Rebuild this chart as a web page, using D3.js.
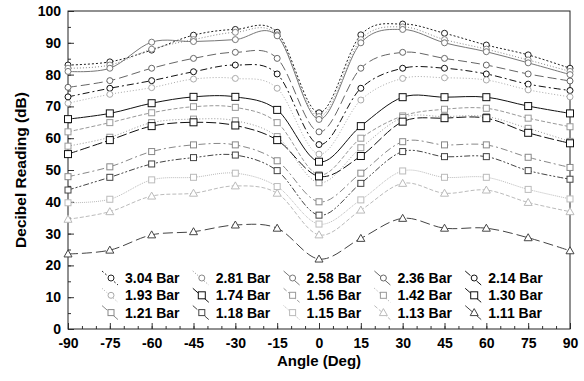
<!DOCTYPE html>
<html>
  <head>
    <meta charset="utf-8" />
    <title>Decibel Reading vs Angle</title>
    <script src="https://d3js.org/d3.v7.min.js"></script>
    <style>
      body { margin: 0; background: #fff; }
      text { font-family: "Liberation Sans", Arial, sans-serif; font-weight: bold; fill: #000; }
    </style>
  </head>

  <body>
    <svg id="viz"></svg>

    <script>
        // data
        var angles = [-90, -75, -60, -45, -30, -15, 0, 15, 30, 45, 60, 75, 90];
        var xTicks = [-90, -75, -60, -45, -30, -15, 0, 15, 30, 45, 60, 75, 90];
        var yTicks = [0, 10, 20, 30, 40, 50, 60, 70, 80, 90, 100];
        var seriesNames = ["3.04 Bar", "2.81 Bar", "2.58 Bar", "2.36 Bar", "2.14 Bar",
                           "1.93 Bar", "1.74 Bar", "1.56 Bar", "1.42 Bar", "1.30 Bar",
                           "1.21 Bar", "1.18 Bar", "1.15 Bar", "1.13 Bar", "1.11 Bar"];

        var bar304 = [83, 84, 87.7, 92.4, 94.2, 93.3, 68, 92.5, 95.9, 93, 89.3, 86.2, 82];
        var bar281 = [82, 83, 88, 91, 93.3, 92.5, 66.8, 91, 95, 91, 88, 84.6, 81];
        var bar258 = [81, 82, 90.2, 90.4, 91, 92.2, 65.9, 90, 94.2, 90, 87.2, 83.7, 80];
        var bar236 = [76, 78.1, 82, 85.1, 87, 85.1, 62, 82, 87, 85.1, 83, 80.2, 78];
        var bar214 = [73, 75.7, 78.1, 80.9, 83, 80.2, 58, 75.7, 82, 82, 80.2, 77, 75];
        var bar193 = [71, 73.8, 75.9, 78.6, 78.8, 75.7, 55, 72, 78.8, 79, 78.3, 75.2, 73];
        var bar174 = [66, 67.8, 71, 73, 73, 68.9, 52.6, 63.8, 72.9, 72.9, 72.9, 70.1, 67.8];
        var bar156 = [62, 64.9, 68, 69.9, 69.7, 64.9, 48.5, 60, 67, 69.1, 69.4, 66.3, 63.6];
        var bar142 = [57.5, 60.3, 64.9, 66, 65.5, 60.5, 46, 57, 66.5, 66.8, 66.8, 63.1, 59];
        var bar130 = [55, 59.4, 63.8, 65, 64, 59.4, 48, 54.4, 65.2, 66.3, 66.3, 61.7, 58.4];
        var bar121 = [47.9, 51, 55.8, 57.9, 57.9, 52.9, 40, 49, 58.9, 57.9, 57.9, 54, 50.8];
        var bar118 = [43.7, 47.7, 51.9, 53.9, 54.7, 49.8, 35.8, 45.8, 55.8, 54.2, 54.2, 49.8, 47.1];
        var bar115 = [39.7, 40.8, 46.9, 47.7, 49, 44.8, 33, 40.6, 49.7, 47.7, 47.7, 43.9, 40.9];
        var bar113 = [34.5, 36.9, 41.8, 42.7, 45, 42.7, 29.6, 37.4, 45.8, 42.7, 43.7, 39.8, 36.9];
        var bar111 = [23.6, 24.8, 29.6, 30.6, 32.7, 31.7, 22, 28.5, 34.8, 31.7, 31.7, 28.7, 24.6];

        var seriesValues = [bar304, bar281, bar258, bar236, bar214, bar193, bar174, bar156,
                            bar142, bar130, bar121, bar118, bar115, bar113, bar111];

        // look of each series
        var styles = [
            {color: "#222", dash: "2,2",         mark: "circle"},
            {color: "#888", dash: "1,2",         mark: "circle"},
            {color: "#777", dash: null,          mark: "circle"},
            {color: "#666", dash: "9,4",         mark: "circle"},
            {color: "#111", dash: "7,3,2,3",     mark: "circle"},
            {color: "#aaa", dash: "1,2",         mark: "circle"},
            {color: "#111", dash: null,          mark: "square", big: true},
            {color: "#999", dash: "4,2",         mark: "square"},
            {color: "#999", dash: "1,2",         mark: "square"},
            {color: "#111", dash: "10,3",        mark: "square", big: true},
            {color: "#888", dash: "7,3,2,3",     mark: "square"},
            {color: "#444", dash: "6,2,2,2,2,2", mark: "square"},
            {color: "#bbb", dash: "1,1",         mark: "square"},
            {color: "#bbb", dash: "4,2",         mark: "triangle"},
            {color: "#444", dash: "10,4",        mark: "triangle"}
        ];

        var width = 584, height = 381;
        var margin = {left: 68, right: 14, top: 11, bottom: 52};
        var plotW = width - margin.left - margin.right;
        var plotH = height - margin.top - margin.bottom;

        var svg = d3.select("#viz")
            .attr("width", width)
            .attr("height", height);

        var x = d3.scaleLinear().domain([-90, 90]).range([0, plotW]);
        var y = d3.scaleLinear().domain([0, 100]).range([plotH, 0]);

        var g = svg.append("g")
            .attr("transform", "translate(" + margin.left + "," + margin.top + ")");

        // minor ticks
        g.append("g")
            .attr("transform", "translate(0," + plotH + ")")
            .call(d3.axisBottom(x).tickValues(d3.range(-90, 91, 5)).tickSize(-3).tickFormat(""))
            .call(function(a) { a.select(".domain").remove(); });
        g.append("g")
            .call(d3.axisLeft(y).tickValues(d3.range(0, 101, 5)).tickSize(-3).tickFormat(""))
            .call(function(a) { a.select(".domain").remove(); });

        // major ticks, plain hyphen for negatives
        var plain = function(d) { return String(d); };
        var xAxis = g.append("g")
            .attr("transform", "translate(0," + plotH + ")")
            .call(d3.axisBottom(x).tickValues(xTicks).tickFormat(plain).tickSize(-6).tickPadding(9));
        var yAxis = g.append("g")
            .call(d3.axisLeft(y).tickValues(yTicks).tickFormat(plain).tickSize(-6).tickPadding(7));

        [xAxis, yAxis].forEach(function(a) {
            a.select(".domain").remove();
            a.selectAll("text").style("font-size", "14px").style("font-family", "Liberation Sans, Arial, sans-serif").style("font-weight", "bold");
        });
        g.selectAll(".tick line").attr("stroke", "#333");

        g.append("rect")
            .attr("width", plotW)
            .attr("height", plotH)
            .attr("fill", "none")
            .attr("stroke", "#222")
            .attr("stroke-width", 1);

        var line = d3.line()
            .x(function(d) { return x(d[0]); })
            .y(function(d) { return y(d[1]); })
            .curve(d3.curveCardinal.tension(0));

        function drawMark(sel, st, cx, cy) {
            if (st.mark === "circle") {
                sel.append("circle").attr("cx", cx).attr("cy", cy).attr("r", 3)
                    .attr("fill", "#fff").attr("stroke", st.color);
            } else if (st.mark === "square") {
                var s = st.big ? 7 : 6;
                sel.append("rect").attr("x", cx - s / 2).attr("y", cy - s / 2)
                    .attr("width", s).attr("height", s)
                    .attr("fill", "#fff").attr("stroke", st.color);
            } else {
                sel.append("path")
                    .attr("d", "M" + cx + "," + (cy - 4) + "L" + (cx + 4) + "," + (cy + 3) + "L" + (cx - 4) + "," + (cy + 3) + "Z")
                    .attr("fill", "#fff").attr("stroke", st.color);
            }
        }

        var lines = g.append("g");
        var marks = g.append("g");

        seriesValues.forEach(function(vals, i) {
            var st = styles[i];
            var pts = angles.map(function(a, j) { return [a, vals[j]]; });
            lines.append("path")
                .attr("d", line(pts))
                .attr("fill", "none")
                .attr("stroke", st.color)
                .attr("stroke-width", 1)
                .attr("stroke-dasharray", st.dash);
            pts.forEach(function(p) {
                drawMark(marks, st, x(p[0]), y(p[1]));
            });
        });

        // legend
        var legend = svg.append("g");
        seriesNames.forEach(function(name, i) {
            var col = i % 5, row = Math.floor(i / 5);
            var tx = 125 + col * 90.8;
            var cy = 278 + row * 17.3;
            var st = styles[i];
            legend.append("line")
                .attr("x1", tx - 23).attr("y1", cy - 7)
                .attr("x2", tx - 7).attr("y2", cy + 7)
                .attr("stroke", st.color)
                .attr("stroke-dasharray", st.dash);
            drawMark(legend, st, tx - 14, cy);
            legend.append("text")
                .attr("x", tx).attr("y", cy + 5)
                .style("font-size", "14px")
                .text(name);
        });

        // axis titles
        svg.append("text")
            .attr("x", margin.left + plotW / 2)
            .attr("y", 366)
            .attr("text-anchor", "middle")
            .style("font-size", "15px")
            .text("Angle (Deg)");

        svg.append("text")
            .attr("transform", "translate(26," + (margin.top + plotH / 2) + ") rotate(-90)")
            .attr("text-anchor", "middle")
            .style("font-size", "15.5px")
            .text("Decibel Reading (dB)");
    </script>
  </body>
</html>
